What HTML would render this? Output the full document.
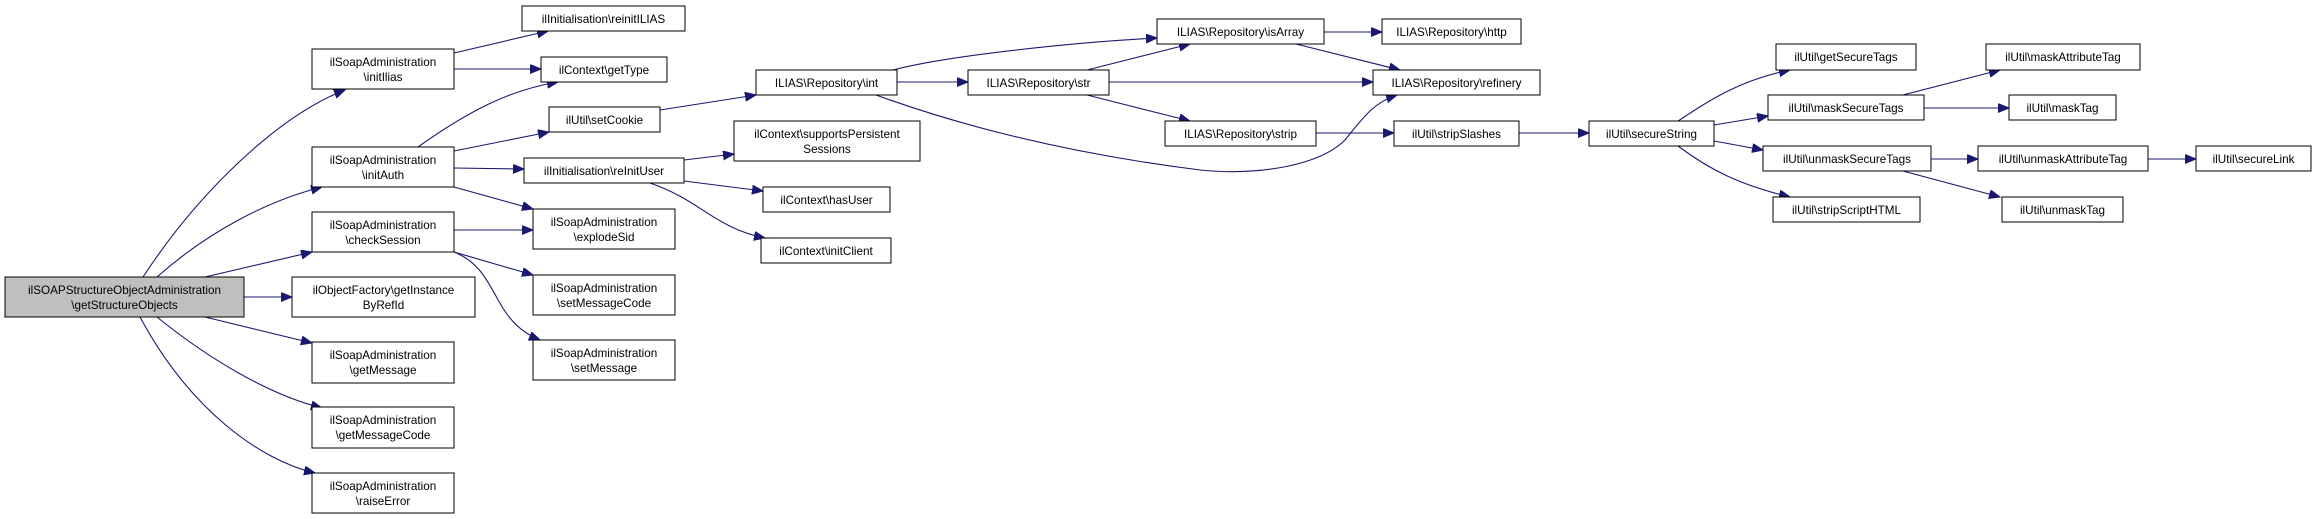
<!DOCTYPE html>
<html><head><meta charset="utf-8"><style>
html,body{margin:0;padding:0;background:#fff;}
svg{display:block;}
text{font-family:"Liberation Sans",Arial,sans-serif;font-size:11.7px;fill:#000;}
.b{fill:#fff;stroke:#000;stroke-width:1;}
.r{fill:#bfbfbf;stroke:#000;stroke-width:1;}
.e{fill:none;stroke:#191970;stroke-width:1.1;}
</style></head><body>
<svg width="2316" height="519" viewBox="0 0 2316 519" xmlns="http://www.w3.org/2000/svg">
<defs><marker id="a" markerUnits="userSpaceOnUse" markerWidth="12" markerHeight="10" refX="11" refY="4.5" orient="auto"><path d="M0,0 L11,4.5 L0,9 Z" fill="#191970" stroke="#191970"/></marker></defs>
<g class="edges">
<path class="e" marker-end="url(#a)" d="M143,277 C200,190 280,115 345,90"/>
<path class="e" marker-end="url(#a)" d="M157,277 C210,230 270,200 322,187"/>
<path class="e" marker-end="url(#a)" d="M205,277 L312,252"/>
<path class="e" marker-end="url(#a)" d="M244,297 L292,297"/>
<path class="e" marker-end="url(#a)" d="M205,317 L312,343"/>
<path class="e" marker-end="url(#a)" d="M157,317 C210,360 270,395 322,408"/>
<path class="e" marker-end="url(#a)" d="M140,317 C190,410 260,460 315,473"/>
<path class="e" marker-end="url(#a)" d="M454,53 L548,31"/>
<path class="e" marker-end="url(#a)" d="M454,69 L541,69"/>
<path class="e" marker-end="url(#a)" d="M418,147 C470,110 510,90 558,82"/>
<path class="e" marker-end="url(#a)" d="M454,151 L549,132"/>
<path class="e" marker-end="url(#a)" d="M454,168 L524,169"/>
<path class="e" marker-end="url(#a)" d="M454,187 L533,209"/>
<path class="e" marker-end="url(#a)" d="M454,230 L533,230"/>
<path class="e" marker-end="url(#a)" d="M454,252 L533,275"/>
<path class="e" marker-end="url(#a)" d="M454,252 C500,270 490,320 540,340"/>
<path class="e" marker-end="url(#a)" d="M660,110 L756,95"/>
<path class="e" marker-end="url(#a)" d="M684,160 L734,154"/>
<path class="e" marker-end="url(#a)" d="M684,181 L763,191"/>
<path class="e" marker-end="url(#a)" d="M650,183 C700,200 715,228 765,238"/>
<path class="e" marker-end="url(#a)" d="M893,70 C950,55 1080,42 1157,38"/>
<path class="e" marker-end="url(#a)" d="M897,82 L968,82"/>
<path class="e" marker-end="url(#a)" d="M876,95 C1000,140 1120,160 1200,170 C1260,176 1320,165 1345,140 C1365,115 1375,102 1397,95"/>
<path class="e" marker-end="url(#a)" d="M1087,70 L1190,44"/>
<path class="e" marker-end="url(#a)" d="M1109,82 L1373,82"/>
<path class="e" marker-end="url(#a)" d="M1087,95 L1190,121"/>
<path class="e" marker-end="url(#a)" d="M1324,32 L1382,32"/>
<path class="e" marker-end="url(#a)" d="M1296,44 L1400,70"/>
<path class="e" marker-end="url(#a)" d="M1316,133 L1394,133"/>
<path class="e" marker-end="url(#a)" d="M1519,133 L1589,133"/>
<path class="e" marker-end="url(#a)" d="M1678,121 C1710,100 1740,80 1790,70"/>
<path class="e" marker-end="url(#a)" d="M1714,125 L1768,116"/>
<path class="e" marker-end="url(#a)" d="M1714,141 L1763,150"/>
<path class="e" marker-end="url(#a)" d="M1678,146 C1710,170 1740,185 1790,197"/>
<path class="e" marker-end="url(#a)" d="M1903,95 L2000,70"/>
<path class="e" marker-end="url(#a)" d="M1924,108 L2009,108"/>
<path class="e" marker-end="url(#a)" d="M1931,159 L1978,159"/>
<path class="e" marker-end="url(#a)" d="M1903,171 L2000,197"/>
<path class="e" marker-end="url(#a)" d="M2148,159 L2196,159"/>
</g>
<g text-anchor="middle">
<rect class="r" x="5" y="277" width="239" height="40"/><text x="124.5" y="294">ilSOAPStructureObjectAdministration</text><text x="124.5" y="309">\getStructureObjects</text>
<rect class="b" x="312" y="49" width="142" height="40"/><text x="383" y="66">ilSoapAdministration</text><text x="383" y="81">\initIlias</text>
<rect class="b" x="312" y="147" width="142" height="40"/><text x="383" y="164">ilSoapAdministration</text><text x="383" y="179">\initAuth</text>
<rect class="b" x="312" y="212" width="142" height="40"/><text x="383" y="229">ilSoapAdministration</text><text x="383" y="244">\checkSession</text>
<rect class="b" x="292" y="277" width="183" height="40"/><text x="383.5" y="294">ilObjectFactory\getInstance</text><text x="383.5" y="309">ByRefId</text>
<rect class="b" x="312" y="342" width="142" height="41"/><text x="383" y="359">ilSoapAdministration</text><text x="383" y="374">\getMessage</text>
<rect class="b" x="312" y="407" width="142" height="41"/><text x="383" y="424">ilSoapAdministration</text><text x="383" y="439">\getMessageCode</text>
<rect class="b" x="312" y="473" width="142" height="40"/><text x="383" y="490">ilSoapAdministration</text><text x="383" y="505">\raiseError</text>
<rect class="b" x="522" y="6" width="163" height="25"/><text x="603.5" y="23">ilInitialisation\reinitILIAS</text>
<rect class="b" x="541" y="57" width="126" height="25"/><text x="604" y="74">ilContext\getType</text>
<rect class="b" x="549" y="107" width="111" height="25"/><text x="604.5" y="124">ilUtil\setCookie</text>
<rect class="b" x="524" y="158" width="160" height="25"/><text x="604" y="175">ilInitialisation\reInitUser</text>
<rect class="b" x="533" y="209" width="142" height="40"/><text x="604" y="226">ilSoapAdministration</text><text x="604" y="241">\explodeSid</text>
<rect class="b" x="533" y="275" width="142" height="40"/><text x="604" y="292">ilSoapAdministration</text><text x="604" y="307">\setMessageCode</text>
<rect class="b" x="533" y="340" width="142" height="40"/><text x="604" y="357">ilSoapAdministration</text><text x="604" y="372">\setMessage</text>
<rect class="b" x="734" y="121" width="186" height="40"/><text x="827" y="138">ilContext\supportsPersistent</text><text x="827" y="153">Sessions</text>
<rect class="b" x="763" y="187" width="127" height="25"/><text x="826.5" y="204">ilContext\hasUser</text>
<rect class="b" x="761" y="238" width="130" height="25"/><text x="826" y="255">ilContext\initClient</text>
<rect class="b" x="756" y="70" width="141" height="25"/><text x="826.5" y="87">ILIAS\Repository\int</text>
<rect class="b" x="968" y="70" width="141" height="25"/><text x="1038.5" y="87">ILIAS\Repository\str</text>
<rect class="b" x="1157" y="19" width="167" height="25"/><text x="1240.5" y="36">ILIAS\Repository\isArray</text>
<rect class="b" x="1382" y="19" width="139" height="25"/><text x="1451.5" y="36">ILIAS\Repository\http</text>
<rect class="b" x="1373" y="70" width="167" height="25"/><text x="1456.5" y="87">ILIAS\Repository\refinery</text>
<rect class="b" x="1165" y="121" width="151" height="25"/><text x="1240.5" y="138">ILIAS\Repository\strip</text>
<rect class="b" x="1394" y="121" width="125" height="25"/><text x="1456.5" y="138">ilUtil\stripSlashes</text>
<rect class="b" x="1589" y="121" width="125" height="25"/><text x="1651.5" y="138">ilUtil\secureString</text>
<rect class="b" x="1776" y="44" width="140" height="26"/><text x="1846" y="61">ilUtil\getSecureTags</text>
<rect class="b" x="1768" y="95" width="156" height="25"/><text x="1846" y="112">ilUtil\maskSecureTags</text>
<rect class="b" x="1763" y="146" width="168" height="25"/><text x="1847" y="163">ilUtil\unmaskSecureTags</text>
<rect class="b" x="1773" y="197" width="147" height="25"/><text x="1846.5" y="214">ilUtil\stripScriptHTML</text>
<rect class="b" x="1986" y="44" width="154" height="26"/><text x="2063" y="61">ilUtil\maskAttributeTag</text>
<rect class="b" x="2009" y="95" width="107" height="25"/><text x="2062.5" y="112">ilUtil\maskTag</text>
<rect class="b" x="1978" y="146" width="170" height="25"/><text x="2063" y="163">ilUtil\unmaskAttributeTag</text>
<rect class="b" x="2002" y="197" width="121" height="25"/><text x="2062.5" y="214">ilUtil\unmaskTag</text>
<rect class="b" x="2196" y="146" width="115" height="25"/><text x="2253.5" y="163">ilUtil\secureLink</text>
</g>
</svg>
</body></html>
